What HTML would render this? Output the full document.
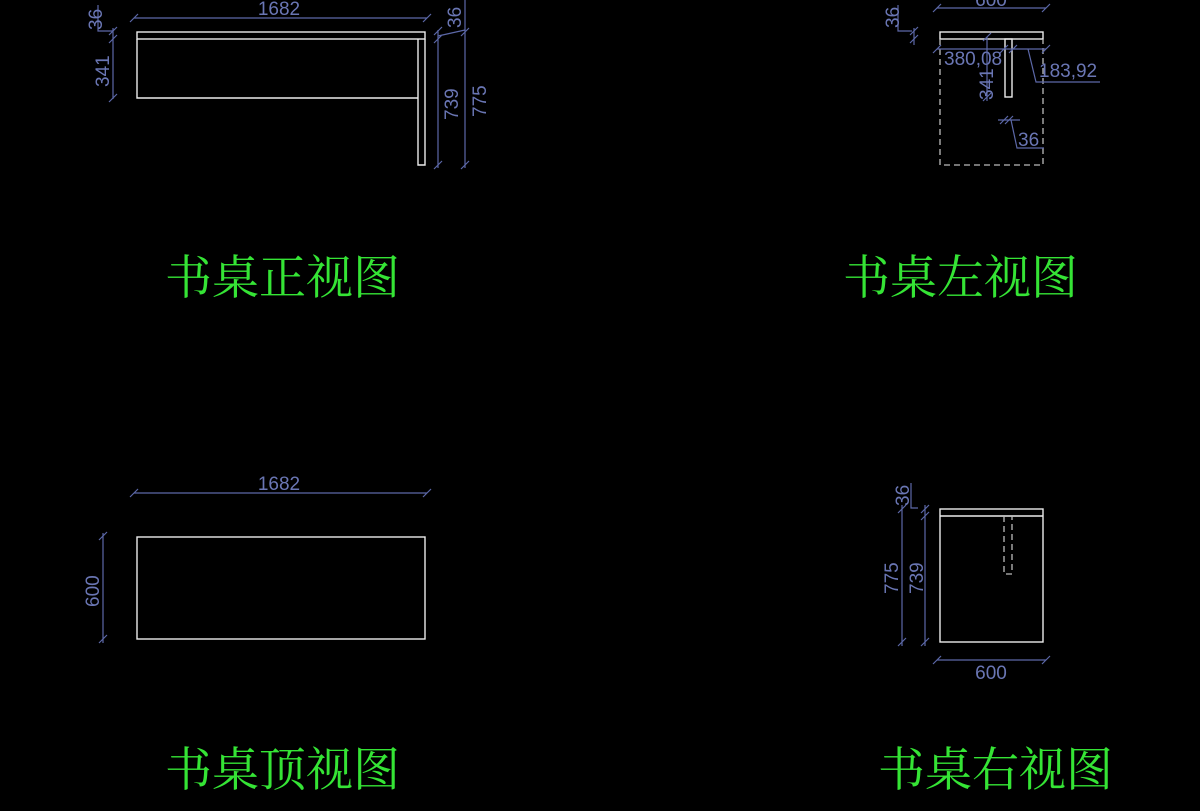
<!DOCTYPE html>
<html><head><meta charset="utf-8"><style>
html,body{margin:0;padding:0;background:#000;}
svg{display:block}
.t{fill:#35e435;font-family:"Liberation Serif","Noto Serif CJK SC",serif;font-size:47px;}
.d{fill:#6a76b4;font-family:"Liberation Sans",sans-serif;font-size:19px;}
.w{stroke:#ececec;stroke-width:1.4;fill:none}
.g{stroke:#bbbbbb;stroke-width:1.3;fill:none;stroke-dasharray:6,4}
.b{stroke:#5c68a8;stroke-width:1.2;fill:none}
</style></head><body>
<svg width="1200" height="811" viewBox="0 0 1200 811">
<rect width="1200" height="811" fill="#000"/>
<!-- Front view -->
<rect class="w" x="137" y="32" width="288" height="7"/>
<path class="w" d="M137 39 V98 H418 M418 39 V165 H425 V39"/>
<path class="b" d="M134 18 H427 M130 22 L138 14 M423 22 L431 14"/>
<text class="d" x="279" y="15" text-anchor="middle">1682</text>
<path class="b" d="M113 28 V99 M109 35 L117 27 M109 43 L117 35 M109 102 L117 94 M98 5 V31 L113 31"/>
<text class="d" transform="translate(102,30) rotate(-90)">36</text>
<text class="d" transform="translate(109,87) rotate(-90)">341</text>
<path class="b" d="M438 30 V168 M434 35 L442 27 M434 43 L442 35 M434 169 L442 161 M465 0 V168 M461 36 L469 28 M461 169 L469 161 M438 36 L465 30"/>
<text class="d" transform="translate(461,28) rotate(-90)">36</text>
<text class="d" transform="translate(458,120) rotate(-90)">739</text>
<text class="d" transform="translate(486,117) rotate(-90)">775</text>
<text class="t" x="165" y="294">书桌正视图</text>
<!-- Left view -->
<rect class="w" x="940" y="32" width="103" height="7"/>
<rect class="w" x="1005" y="39" width="7" height="58"/>
<path class="g" d="M940 39 V165 H1043 V39"/>
<path class="b" d="M937 8 H1046 M933 12 L941 4 M1042 12 L1050 4"/>
<text class="d" x="991" y="6" text-anchor="middle">600</text>
<path class="b" d="M914 28 V45 M910 35 L918 27 M910 43 L918 35 M898 5 V31 H912"/>
<text class="d" transform="translate(899,28) rotate(-90)">36</text>
<path class="b" d="M937 49 H1046 M933 53 L941 45 M1000 53 L1008 45 M1009 53 L1017 45 M1042 53 L1050 45 M1028 49 L1036 82 H1100"/>
<text class="d" x="944" y="65">380,08</text>
<text class="d" x="1039" y="77">183,92</text>
<path class="b" d="M987 37 V101 M983 41 L991 33 M983 101 L991 93"/>
<text class="d" transform="translate(993,100) rotate(-90)">341</text>
<path class="b" d="M998 120 H1020 M1000 124 L1008 116 M1005 124 L1013 116 M1011 120 L1017 148 H1044"/>
<text class="d" x="1018" y="146">36</text>
<text class="t" x="843" y="294">书桌左视图</text>
<!-- Top view -->
<rect class="w" x="137" y="537" width="288" height="102"/>
<path class="b" d="M134 493 H427 M130 497 L138 489 M423 497 L431 489"/>
<text class="d" x="279" y="490" text-anchor="middle">1682</text>
<path class="b" d="M103 533 V643 M99 540 L107 532 M99 643 L107 635"/>
<text class="d" transform="translate(99,607) rotate(-90)">600</text>
<text class="t" x="165" y="786">书桌顶视图</text>
<!-- Right view -->
<rect class="w" x="940" y="509" width="103" height="133"/>
<path class="w" d="M940 516 H1043"/>
<path class="g" d="M1004 516 V574 H1012 V516"/>
<path class="b" d="M902 505 V646 M898 513 L906 505 M898 646 L906 638 M925 505 V646 M921 513 L929 505 M921 520 L929 512 M921 646 L929 638 M911 483 V508 H918"/>
<text class="d" transform="translate(909,506) rotate(-90)">36</text>
<text class="d" transform="translate(898,594) rotate(-90)">775</text>
<text class="d" transform="translate(923,594) rotate(-90)">739</text>
<path class="b" d="M937 660 H1046 M933 664 L941 656 M1042 664 L1050 656"/>
<text class="d" x="991" y="679" text-anchor="middle">600</text>
<text class="t" x="878" y="786">书桌右视图</text>
</svg>
</body></html>
